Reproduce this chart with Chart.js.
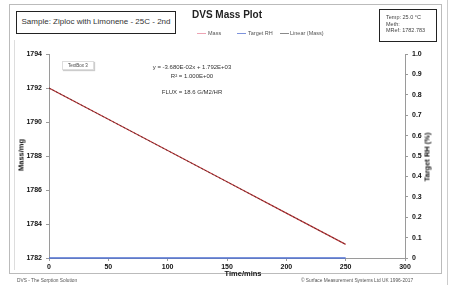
<!DOCTYPE html>
<html>
<head>
<meta charset="utf-8">
<script src="https://cdn.jsdelivr.net/npm/chart.js@4.4.1/dist/chart.umd.min.js"></script>
<style>
  html, body { margin: 0; padding: 0; background: #fff; }
  #wrap { position: relative; width: 449px; height: 285px; overflow: hidden; font-family: 'Liberation Sans', Arial, sans-serif; }
  #wrap canvas { position: absolute; left: 0; top: 0; }
  .abs { position: absolute; white-space: nowrap; color: #222; }
  .box { position: absolute; border: 1.5px solid #222; background: #fff; box-sizing: border-box; }
  .leg { position: absolute; top: 30px; font-size: 5.5px; color: #555; }
  .sw { position: absolute; top: 33px; height: 1px; }
  .rot { position: absolute; transform: translate(-50%, -50%) rotate(-90deg); font-weight: bold; font-size: 7.5px; white-space: nowrap; color: #111; }
</style>
</head>
<body>
<div id="wrap">
  <canvas id="c" width="449" height="285"></canvas>

  <!-- frame -->
  <div class="abs" style="left:9px;top:4px;width:433px;height:270px;border:1px solid #bbb;box-sizing:border-box;"></div>
  <div class="abs" style="left:14px;top:40px;width:0;height:230px;border-left:1px solid #ddd;"></div>
  <div class="abs" style="left:447px;top:0;width:0;height:285px;border-left:1px solid #ccc;"></div>

  <!-- header boxes -->
  <div class="box" style="left:16px;top:11px;width:160px;height:23px;"></div>
  <div class="abs" style="left:16px;top:17px;width:160px;text-align:center;font-size:8px;color:#333;">Sample: Ziploc with Limonene - 25C - 2nd</div>

  <div class="box" style="left:379px;top:9px;width:58px;height:33px;"></div>
  <div class="abs" style="left:386px;top:14px;font-size:5.5px;line-height:6.5px;color:#444;">Temp: 25.0 °C<br>Meth:<br>MRef: 1782.783</div>

  <div class="abs" style="left:192px;top:9px;font-size:10px;font-weight:bold;color:#222;">DVS Mass Plot</div>

  <!-- legend -->
  <div class="sw" style="left:197px;width:9px;background:#eda3b3;"></div>
  <div class="leg" style="left:208px;">Mass</div>
  <div class="sw" style="left:237px;width:9px;background:#7d93dc;"></div>
  <div class="leg" style="left:248px;">Target RH</div>
  <div class="sw" style="left:280px;width:9px;background:#8a8a8a;"></div>
  <div class="leg" style="left:290px;">Linear (Mass)</div>

  <!-- annotations -->
  <div class="abs" style="left:62px;top:61px;width:30px;height:7px;border:1px solid #ddd;box-shadow:1px 1px 1px #ccc;font-size:4.5px;line-height:7px;text-align:center;color:#444;">TextBox 3</div>
  <div class="abs" style="left:142px;top:63px;width:100px;text-align:center;font-size:6px;line-height:8.5px;color:#333;">y = -3.680E-02x + 1.792E+03<br>R² = 1.000E+00</div>
  <div class="abs" style="left:142px;top:89px;width:100px;text-align:center;font-size:6px;color:#333;">FLUX = 18.6 G/M2/HR</div>

  <!-- axis titles -->
  <div class="rot" style="left:21px;top:155px;">Mass/mg</div>
  <div class="rot" style="left:427px;top:157px;">Target RH (%)</div>
  <div class="abs" style="left:243px;top:273px;transform:translate(-50%,-50%);font-size:7.5px;font-weight:bold;color:#111;">Time/mins</div>

  <!-- footer -->
  <div class="abs" style="left:17px;top:278px;font-size:4.8px;color:#555;">DVS - The Sorption Solution</div>
  <div class="abs" style="left:301px;top:278px;font-size:4.8px;color:#555;">© Surface Measurement Systems Ltd UK 1996-2017</div>
</div>

<script>
// data
const timeMins = [0, 50, 100, 150, 200, 250];
const massMg = [1792.0, 1790.16, 1788.32, 1786.48, 1784.64, 1782.8];
const targetRH = [0, 0, 0, 0, 0, 0];
const linearTime = [0, 250];
const linearMass = [1792.0, 1782.8];

const xTicks = [0, 50, 100, 150, 200, 250, 300];
const massTicks = [1782, 1784, 1786, 1788, 1790, 1792, 1794];

const tickFont = { family: 'Liberation Sans', size: 7, weight: 'bold' };
const axisGray = '#9a9a9a';

const toPts = (xs, ys) => xs.map((x, i) => ({ x: x, y: ys[i] }));

const ctx = document.getElementById('c').getContext('2d');
new Chart(ctx, {
  type: 'line',
  data: {
    datasets: [
      {
        label: 'Target RH',
        data: toPts(timeMins, targetRH),
        yAxisID: 'y1',
        borderColor: '#4e6fd2',
        borderWidth: 1.4,
        pointRadius: 0,
        clip: false,
        order: 3,
      },
      {
        label: 'Mass',
        data: toPts(timeMins, massMg),
        yAxisID: 'y',
        borderColor: '#c0393b',
        borderWidth: 1.2,
        pointRadius: 0,
        order: 2,
      },
      {
        label: 'Linear (Mass)',
        data: toPts(linearTime, linearMass),
        yAxisID: 'y',
        borderColor: '#4a2a2a',
        borderWidth: 0.8,
        borderDash: [2, 2],
        pointRadius: 0,
        order: 1,
      },
    ],
  },
  options: {
    responsive: false,
    animation: false,
    events: [],
    layout: { padding: { left: 14, right: 9, top: 54, bottom: 15 } },
    plugins: { legend: { display: false }, title: { display: false }, tooltip: { enabled: false } },
    scales: {
      x: {
        type: 'linear',
        min: 0,
        max: 300,
        afterBuildTicks: (s) => { s.ticks = xTicks.map(v => ({ value: v })); },
        afterFit: (s) => { s.height = 12; },
        ticks: { font: tickFont, color: '#111', padding: 2, maxRotation: 0 },
        grid: { drawOnChartArea: false, tickLength: 3, color: axisGray },
        border: { color: axisGray },
      },
      y: {
        position: 'left',
        min: 1782,
        max: 1794,
        afterBuildTicks: (s) => { s.ticks = massTicks.map(v => ({ value: v })); },
        afterFit: (s) => { s.width = 35; },
        ticks: { font: tickFont, color: '#111', padding: 4, callback: (v) => String(v) },
        grid: { drawOnChartArea: false, tickLength: 3, color: axisGray },
        border: { color: axisGray },
      },
      y1: {
        position: 'right',
        min: 0,
        max: 1,
        afterFit: (s) => { s.width = 35; },
        ticks: { stepSize: 0.1, font: tickFont, color: '#111', padding: 4 },
        grid: { drawOnChartArea: false, tickLength: 3, color: axisGray },
        border: { color: axisGray },
      },
    },
  },
});
</script>
</body>
</html>
